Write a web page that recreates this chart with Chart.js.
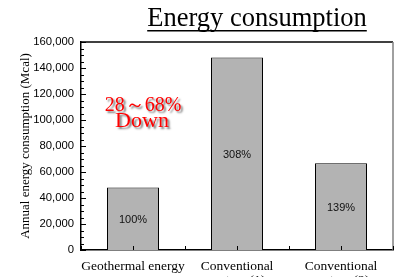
<!DOCTYPE html>
<html>
<head>
<meta charset="utf-8">
<script src="https://cdn.jsdelivr.net/npm/chart.js@4/dist/chart.umd.min.js"></script>
<style>
  html, body { margin: 0; padding: 0; background: #fff; overflow: hidden; }
  #wrap { width: 404px; height: 290px; }
</style>
</head>
<body>
<div id="wrap"><canvas id="chart" width="404" height="290"></canvas></div>
<script>
// chart data
const categories = [['Geothermal energy'], ['Conventional', 'system (1)'], ['Conventional', 'system (2)']];
const energyValues = [48000, 148000, 66700];
const percentLabels = ['100%', '308%', '139%'];
const yTicks = [0, 20000, 40000, 60000, 80000, 100000, 120000, 140000, 160000];

const serif = '"Liberation Serif", "Times New Roman", serif';

// ticks drawn inside the frame, plus frame, titles and bar labels
const decorPlugin = {
    id: 'decor',
    afterDatasetsDraw(chart) {
        const ctx = chart.ctx;
        const area = chart.chartArea;
        const x = chart.scales.x;
        const y = chart.scales.y;
        ctx.save();

        // frame top and right
        ctx.strokeStyle = '#000';
        ctx.lineWidth = 1.5;
        ctx.beginPath();
        ctx.moveTo(area.left, area.top);
        ctx.lineTo(area.right, area.top);
        ctx.stroke();
        ctx.strokeStyle = '#808080';
        ctx.beginPath();
        ctx.moveTo(area.right, area.top);
        ctx.lineTo(area.right, area.bottom);
        ctx.stroke();

        // y ticks inside
        ctx.strokeStyle = '#000';
        ctx.lineWidth = 1;
        y.ticks.forEach(t => {
            const py = Math.round(y.getPixelForValue(t.value)) + 0.5;
            const len = yTicks.includes(t.value) ? 5 : 3;
            ctx.beginPath();
            ctx.moveTo(area.left, py);
            ctx.lineTo(area.left + len, py);
            ctx.stroke();
        });

        // x ticks inside, at centres and boundaries
        const half = (x.getPixelForValue(1) - x.getPixelForValue(0)) / 2;
        for (let i = 0; i < categories.length; i++) {
            const cx = x.getPixelForValue(i);
            [cx - half, cx, cx + half].forEach(px => {
                const rx = Math.round(px) + 0.5;
                ctx.beginPath();
                ctx.moveTo(rx, area.bottom);
                ctx.lineTo(rx, area.bottom - 4);
                ctx.stroke();
            });
        }

        // percentage labels in the middle of each bar
        ctx.fillStyle = '#111';
        ctx.font = '11px "Liberation Sans", Arial, sans-serif';
        ctx.textAlign = 'center';
        ctx.textBaseline = 'middle';
        chart.getDatasetMeta(0).data.forEach((bar, i) => {
            ctx.fillText(percentLabels[i], bar.x, (bar.y + bar.base) / 2 + 1);
        });

        // y axis title
        ctx.save();
        ctx.translate(26, (area.top + area.bottom) / 2);
        ctx.rotate(-Math.PI / 2);
        ctx.fillStyle = '#000';
        ctx.font = '13px ' + serif;
        ctx.fillText('Annual energy consumption (Mcal)', 0, 0);
        ctx.restore();

        // title with underline
        ctx.fillStyle = '#000';
        ctx.font = '26.5px ' + serif;
        ctx.textBaseline = 'alphabetic';
        const title = 'Energy consumption';
        const tw = ctx.measureText(title).width;
        ctx.fillText(title, 257, 26);
        ctx.fillRect(257 - tw / 2, 30, tw, 1.5);

        // red note
        ctx.fillStyle = '#ff0000';
        ctx.shadowColor = 'rgba(0,0,0,0.55)';
        ctx.shadowOffsetX = 2;
        ctx.shadowOffsetY = 2;
        ctx.shadowBlur = 2;
        ctx.font = '20px ' + serif;
        ctx.fillText('28～68%', 143, 111);
        ctx.font = '22px ' + serif;
        ctx.fillText('Down', 142, 127);
        ctx.restore();
    }
};

new Chart(document.getElementById('chart'), {
    type: 'bar',
    data: {
        labels: categories,
        datasets: [{
            data: energyValues,
            backgroundColor: '#b3b3b3',
            borderColor: '#000',
            borderWidth: 1,
            barPercentage: 0.5,
            categoryPercentage: 1
        }]
    },
    options: {
        responsive: false,
        animation: false,
        layout: { padding: { left: 0, top: 42, right: 11, bottom: 0 } },
        plugins: {
            legend: { display: false },
            tooltip: { enabled: false }
        },
        scales: {
            x: {
                grid: { display: false, drawTicks: false },
                border: { display: true, color: '#000', width: 1.5 },
                ticks: {
                    color: '#000',
                    autoSkip: false,
                    font: { family: serif, size: 13.5, lineHeight: 1.0 },
                    padding: 10,
                    maxRotation: 0
                },
                afterFit: scale => { scale.height = 40; }
            },
            y: {
                min: 0,
                max: 160000,
                grid: { display: false, drawTicks: false },
                border: { display: true, color: '#000', width: 1.5 },
                ticks: {
                    stepSize: 5000,
                    autoSkip: false,
                    color: '#000',
                    padding: 7,
                    font: { family: '"Liberation Sans", Arial, sans-serif', size: 11.3 },
                    callback: v => yTicks.includes(v) ? v.toLocaleString('en-US') : ''
                },
                afterFit: scale => { scale.width = 81; }
            }
        }
    },
    plugins: [decorPlugin]
});
</script>
</body>
</html>
